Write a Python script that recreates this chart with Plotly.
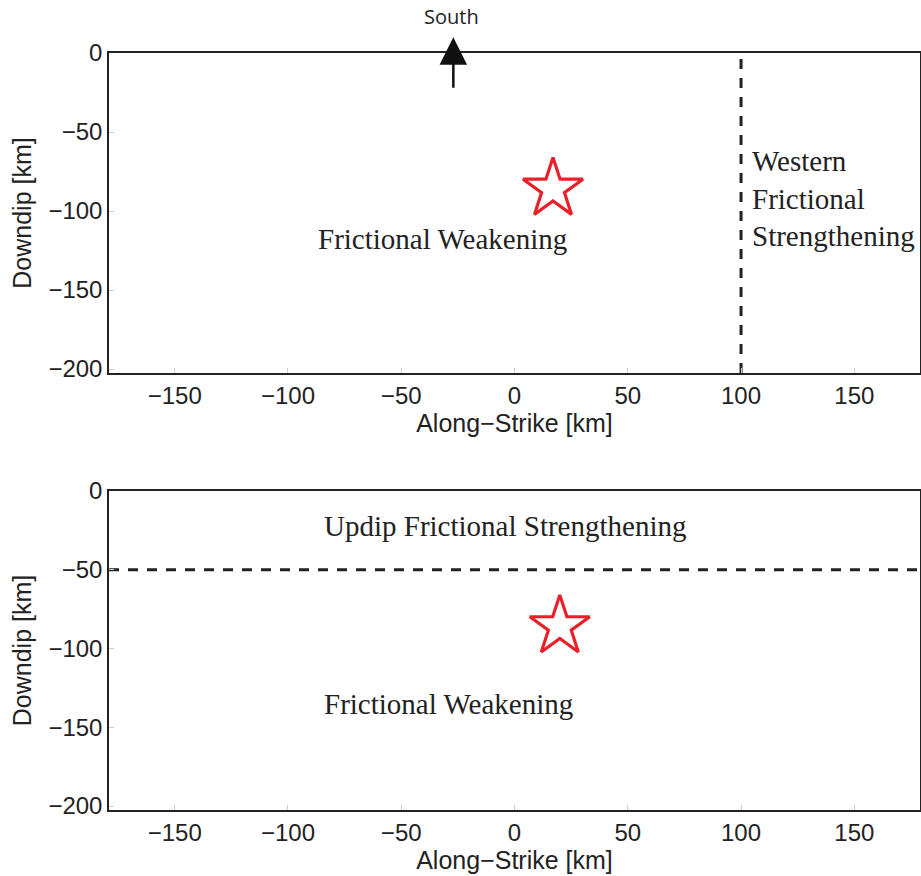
import plotly.graph_objects as go

# Fault-plane geometry (km)
x_range = [-179, 179]
y_range = [-202.5, 0]
x_ticks = [-150, -100, -50, 0, 50, 100, 150]
y_ticks = [0, -50, -100, -150, -200]

# Hypocentre (star) location in each panel
hypo_top = (17, -86)
hypo_bottom = (20, -86)

# Frictional boundaries
western_boundary_x = 100
updip_boundary_y = -50

# Direction arrow
arrow_x = -27
arrow_tail_y = -23
arrow_tip_y = 10

W, H = 921, 876
top_dom = [1 - 373 / H, 1 - 53 / H]
bot_dom = [1 - 810 / H, 1 - 491 / H]
x_dom = [109 / W, 920 / W]

sans = "Liberation Sans, Arial, sans-serif"
serif = "Liberation Serif, Times New Roman, serif"
ink = "#222222"

fig = go.Figure()

star_style = dict(symbol="star-open", size=45, color="#e8202a",
                  line=dict(color="#e8202a", width=3.2))

fig.add_trace(go.Scatter(x=[hypo_top[0]], y=[hypo_top[1]], mode="markers",
                         marker=star_style, xaxis="x", yaxis="y",
                         showlegend=False, hoverinfo="skip"))
fig.add_trace(go.Scatter(x=[hypo_bottom[0]], y=[hypo_bottom[1]], mode="markers",
                         marker=star_style, xaxis="x2", yaxis="y2",
                         showlegend=False, hoverinfo="skip"))

# Boundaries
fig.add_trace(go.Scatter(x=[western_boundary_x, western_boundary_x], y=y_range,
                         mode="lines", line=dict(color=ink, width=3, dash="10px,9px"),
                         xaxis="x", yaxis="y", showlegend=False, hoverinfo="skip"))
fig.add_trace(go.Scatter(x=x_range, y=[updip_boundary_y, updip_boundary_y],
                         mode="lines", line=dict(color=ink, width=3, dash="10px,9px"),
                         xaxis="x2", yaxis="y2", showlegend=False, hoverinfo="skip"))


def minus_labels(vals):
    return [("\u2212" + str(-v)) if v < 0 else str(v) for v in vals]


axis_common = dict(showgrid=False, zeroline=False, showline=True, mirror=True,
                   linecolor=ink, linewidth=1.5, ticks="inside", ticklen=5,
                   tickcolor="#cccccc", tickwidth=1, automargin=False,
                   tickfont=dict(family=sans, size=24, color=ink))

xa = dict(axis_common, range=x_range, tickvals=x_ticks, ticktext=minus_labels(x_ticks),
          domain=x_dom,
          title=dict(text="Along\u2212Strike [km]", font=dict(family=sans, size=25, color=ink),
                     standoff=2))
ya = dict(axis_common, range=y_range, tickvals=y_ticks, ticktext=minus_labels(y_ticks),
          title=dict(text="Downdip [km]", font=dict(family=sans, size=25, color=ink),
                     standoff=10))

fig.update_layout(
    width=W, height=H,
    margin=dict(l=0, r=0, t=0, b=0),
    paper_bgcolor="white", plot_bgcolor="white",
    xaxis=dict(xa, anchor="y"),
    yaxis=dict(ya, domain=top_dom, anchor="x"),
    xaxis2=dict(xa, anchor="y2"),
    yaxis2=dict(ya, domain=bot_dom, anchor="x2"),
)

serif_font = dict(family=serif, size=29, color=ink)
annotations = [
    dict(x=-32, y=-118, xref="x", yref="y", text="Frictional Weakening",
         showarrow=False, font=serif_font),
    dict(x=104, y=-57, xref="x", yref="y", text="Western<br>Frictional<br>Strengthening",
         showarrow=False, font=serif_font, xanchor="left", yanchor="top", align="left"),
    dict(x=-4, y=-22, xref="x2", yref="y2", text="Updip Frictional Strengthening",
         showarrow=False, font=serif_font),
    dict(x=-29, y=-135, xref="x2", yref="y2", text="Frictional Weakening",
         showarrow=False, font=serif_font),
    dict(x=arrow_x, y=arrow_tip_y, xref="x", yref="y",
         ax=arrow_x, ay=arrow_tail_y, axref="x", ayref="y",
         text="", showarrow=True, arrowhead=2, arrowwidth=2.5, arrowsize=2.2,
         arrowcolor="#111111", standoff=0),
    dict(x=arrow_x - 1, y=1.115, xref="x", yref="y domain", text="South", showarrow=False,
         yanchor="middle",
         font=dict(family="Open Sans, Noto Sans, sans-serif", size=20, color=ink)),
]
fig.update_layout(annotations=annotations)

fig.write_html("out.html")
